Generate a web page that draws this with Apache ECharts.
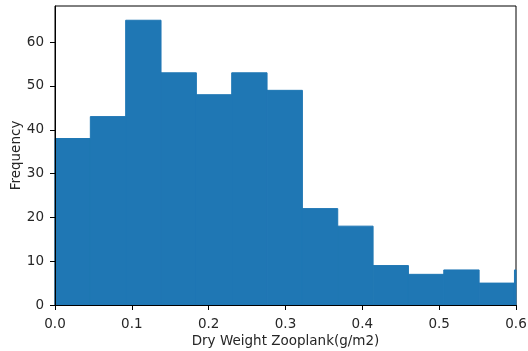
<!DOCTYPE html>
<html>
<head>
<meta charset="utf-8">
<script src="https://cdn.jsdelivr.net/npm/echarts@6/dist/echarts.min.js"></script>
<style>
  html, body { margin: 0; padding: 0; background: #fff; }
  #histChart { width: 528px; height: 351px; }
</style>
</head>
<body>
<div id="histChart"></div>
<script>
// histogram counts, bins start at 0 with a fixed width (last bin runs past 0.6 and is clipped)
const binWidth = 0.046;
const counts = [38, 43, 65, 53, 48, 53, 49, 22, 18, 9, 7, 8, 5, 8];
const xTicks = [0, 0.1, 0.2, 0.3, 0.4, 0.5, 0.6];
const yTicks = [0, 10, 20, 30, 40, 50, 60];

const bins = counts.map((c, i) => [i * binWidth, (i + 1) * binWidth, c]);

const chart = echarts.init(document.getElementById('histChart'));
const font = 'DejaVu Sans';
const textColor = '#262626';
const barColor = '#1f77b4';

const options = {
  animation: false,
  grid: {
    left: 55,
    right: 12,
    top: 6,
    bottom: 46,
    outerBoundsMode: 'none',
    show: true,
    borderColor: '#000',
    borderWidth: 1
  },
  xAxis: {
    type: 'value',
    z: 5,
    min: 0,
    max: 0.6,
    interval: 0.1,
    name: 'Dry Weight Zooplank(g/m2)',
    nameLocation: 'middle',
    nameGap: 29,
    nameMoveOverlap: false,
    nameTextStyle: { color: textColor, fontFamily: font, fontSize: 13.5 },
    axisLine: { show: true, lineStyle: { color: '#000', width: 1 } },
    axisTick: { show: true, length: 5, lineStyle: { color: '#000' }, customValues: xTicks },
    axisLabel: {
      color: textColor,
      fontFamily: font,
      fontSize: 13.5,
      margin: 12,
      customValues: xTicks,
      formatter: v => v.toFixed(1)
    },
    splitLine: { show: false }
  },
  yAxis: {
    type: 'value',
    z: 5,
    min: 0,
    max: 68.25,
    interval: 10,
    name: 'Frequency',
    nameLocation: 'middle',
    nameGap: 32,
    nameMoveOverlap: false,
    nameTextStyle: { color: textColor, fontFamily: font, fontSize: 13.5 },
    axisLine: { show: true, lineStyle: { color: '#000', width: 1 } },
    axisTick: { show: true, length: 5, lineStyle: { color: '#000' }, customValues: yTicks },
    axisLabel: {
      color: textColor,
      fontFamily: font,
      fontSize: 13.5,
      margin: 11,
      customValues: yTicks
    },
    splitLine: { show: false }
  },
  series: [
    {
      type: 'custom',
      data: bins,
      encode: { x: [0, 1], y: 2 },
      renderItem: function (params, api) {
        const p0 = api.coord([api.value(0), api.value(2)]);
        const p1 = api.coord([api.value(1), 0]);
        const rect = echarts.graphic.clipRectByRect(
          { x: p0[0], y: p0[1], width: p1[0] - p0[0], height: p1[1] - p0[1] },
          {
            x: params.coordSys.x,
            y: params.coordSys.y,
            width: params.coordSys.width,
            height: params.coordSys.height
          }
        );
        // stroke in the fill colour hides the seams between neighbouring bins
        return rect && {
          type: 'rect',
          shape: rect,
          style: { fill: barColor, stroke: barColor, lineWidth: 1 }
        };
      }
    }
  ]
};

chart.setOption(options);
</script>
</body>
</html>
